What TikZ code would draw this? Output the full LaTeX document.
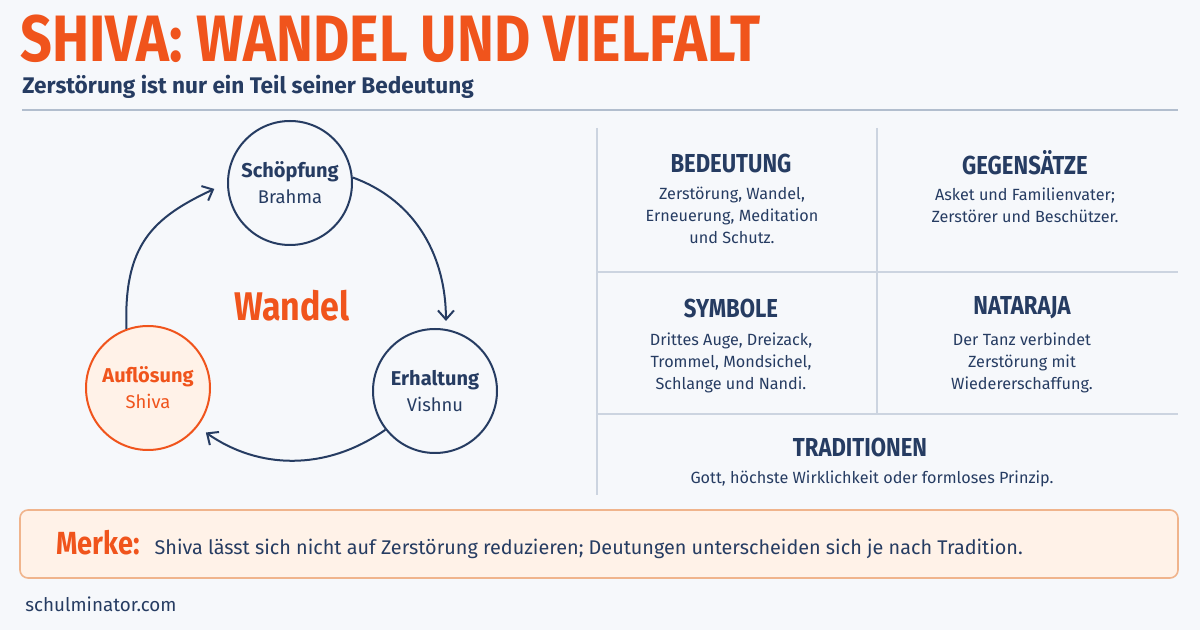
\documentclass[tikz,border=0pt]{standalone}
\usepackage{fontspec}
\setmainfont{Fira Sans}
\newfontfamily\condfont[FakeStretch=0.85]{Fira Sans}
\definecolor{shorange}{RGB}{240,84,28}
\definecolor{shnavy}{RGB}{38,60,98}
\definecolor{shbg}{RGB}{246,248,251}
\definecolor{shgrid}{RGB}{204,212,224}
\definecolor{shrule}{RGB}{178,190,206}
\definecolor{shpeach}{RGB}{255,242,232}
\definecolor{shpeachline}{RGB}{240,180,140}
\usetikzlibrary{arrows.meta,positioning}

\begin{document}
\begin{tikzpicture}[
  x=0.5pt,y=-0.5pt,
  every node/.style={inner sep=0pt,text=shnavy},
  stage/.style={circle,draw=shnavy,line width=1pt,minimum size=62pt,fill=shbg,
                align=center,font=\fontsize{9.2}{13}\selectfont},
  hot/.style={draw=shorange,fill=shpeach,text=shorange},
  cycarrow/.style={draw=shnavy,line width=1pt,
                   -{Straight Barb[length=4.5pt,width=8pt,line width=1pt]}},
  cellhead/.style={font=\condfont\bfseries\fontsize{13}{15}\selectfont},
  celltext/.style={font=\fontsize{8.1}{11}\selectfont,align=center,anchor=north},
  gridline/.style={draw=shgrid,line width=0.7pt},
]
  % background and frame
  \fill[shbg] (0,0) rectangle (1200,630);
  \useasboundingbox (0,0) rectangle (1200,630);

  % title
  \node[anchor=base west,text=shorange,font=\condfont\bfseries\fontsize{32.8}{36}\selectfont]
    (title) at (20,62) {SHIVA: WANDEL UND VIELFALT};
  \node[anchor=base west,font=\bfseries\fontsize{11.3}{13}\selectfont]
    (subtitle) at (22,94) {Zerstörung ist nur ein Teil seiner Bedeutung};
  \draw[shrule,line width=0.8pt] (22,110) -- (1178,110);

  % cycle
  \node[stage] (schoepf) at (290,183) {{\bfseries\fontsize{10}{13}\selectfont Schöpfung}\\Brahma};
  \node[stage] (erhalt) at (435,391) {{\bfseries\fontsize{10}{13}\selectfont Erhaltung}\\Vishnu};
  \node[stage,hot] (aufl) at (148,388) {{\bfseries\fontsize{10}{13}\selectfont Auflösung}\\Shiva};
  \node[text=shorange,font=\condfont\bfseries\fontsize{20}{22}\selectfont] (wandel) at (292,306) {Wandel};
  \draw[cycarrow,shorten >=4pt] (schoepf.5) to[out=-20,in=90] (erhalt.80);
  \draw[cycarrow,shorten >=5pt] (erhalt.218) to[out=-145,in=-35] (aufl.-38);
  \draw[cycarrow,shorten >=7pt] (aufl.110) to[out=92,in=-155,looseness=1.2] (schoepf.180);

  % grid
  \draw[gridline] (597,128) -- (597,495);
  \draw[gridline] (877,128) -- (877,414);
  \draw[gridline] (597,272) -- (1178,272);
  \draw[gridline] (597,414) -- (1178,414);

  \node[cellhead] (bedh) at (731,163) {BEDEUTUNG};
  \node[celltext] (bedt) at (732,187) {Zerstörung, Wandel,\\Erneuerung, Meditation\\und Schutz.};
  \node[cellhead] (gegh) at (1025,163) {GEGENSÄTZE};
  \node[celltext] (gegt) at (1025,187) {Asket und Familienvater;\\Zerstörer und Beschützer.};
  \node[cellhead] (symh) at (731,308) {SYMBOLE};
  \node[celltext] (symt) at (731,332) {Drittes Auge, Dreizack,\\Trommel, Mondsichel,\\Schlange und Nandi.};
  \node[cellhead] (nath) at (1022,308) {NATARAJA};
  \node[celltext] (natt) at (1022,332) {Der Tanz verbindet\\Zerstörung mit\\Wiedererschaffung.};
  \node[cellhead] (trah) at (860,447) {TRADITIONEN};
  \node[celltext] (trat) at (872,470) {Gott, höchste Wirklichkeit oder formloses Prinzip.};

  % note box
  \node[draw=shpeachline,fill=shpeach,line width=0.8pt,rounded corners=4pt,
        minimum width=579pt,minimum height=34pt] (merkebox) at (599,544) {};
  \node[anchor=base west,text=shorange,font=\condfont\bfseries\fontsize{16}{18}\selectfont]
    (merke) at (56,555) {Merke:};
  \node[right=7pt of merke.base east,anchor=base west,font=\fontsize{9.9}{12}\selectfont]
    (merktext) {Shiva lässt sich nicht auf Zerstörung reduzieren; Deutungen unterscheiden sich je nach Tradition.};

  % footer
  \node[anchor=base west,font=\fontsize{9.4}{11}\selectfont] (site) at (25,611) {schulminator.com};
\end{tikzpicture}
\end{document}
